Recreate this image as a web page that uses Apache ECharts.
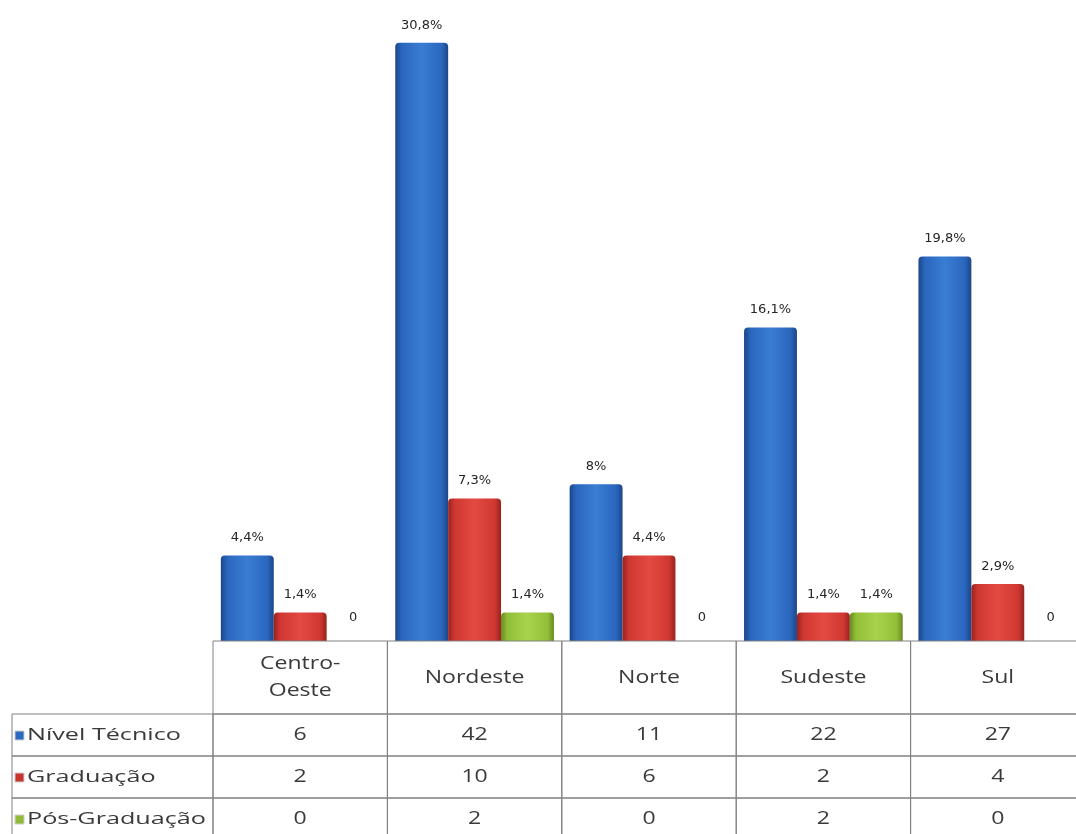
<!DOCTYPE html>
<html>
<head>
<meta charset="utf-8">
<script src="https://cdn.jsdelivr.net/npm/echarts@6/dist/echarts.min.js"></script>
<style>html,body{margin:0;padding:0;background:#fff;overflow:hidden;width:1076px;height:834px;}#c{width:1090px;height:834px;}</style>
</head>
<body>
<div id="c"></div>
<script>
const categories = ['Centro-\nOeste', 'Nordeste', 'Norte', 'Sudeste', 'Sul'];
const seriesNames = ['Nível Técnico', 'Graduação', 'Pós-Graduação'];
const valuesTecnico = [6, 42, 11, 22, 27];
const valuesGraduacao = [2, 10, 6, 2, 4];
const valuesPos = [0, 2, 0, 2, 0];
const labelsTecnico = ['4,4%', '30,8%', '8%', '16,1%', '19,8%'];
const labelsGraduacao = ['1,4%', '7,3%', '4,4%', '1,4%', '2,9%'];
const labelsPos = ['0', '1,4%', '0', '1,4%', '0'];

const allValues = [valuesTecnico, valuesGraduacao, valuesPos];
const allLabels = [labelsTecnico, labelsGraduacao, labelsPos];
const palette = [
  ['#1b4688', '#2a66bd', '#3b7dd4'],
  ['#97231f', '#cf3731', '#e24a42'],
  ['#678c1f', '#92bf38', '#a9d24c']
];
const markerColors = ['#2c69c0', '#c9342f', '#8fbb36'];

function grad(p) {
  return new echarts.graphic.LinearGradient(0, 0, 1, 0, [
    { offset: 0, color: p[0] }, { offset: 0.12, color: p[1] },
    { offset: 0.5, color: p[2] }, { offset: 0.88, color: p[1] }, { offset: 1, color: p[0] }
  ]);
}

const barSeries = allValues.map((vals, s) => ({
  type: 'bar',
  name: seriesNames[s],
  barGap: '0%',
  barCategoryGap: '9%',
  itemStyle: { color: grad(palette[s]), borderRadius: [4, 4, 0, 0] },
  data: vals.map(v => ({ value: v, label: { offset: v === 0 ? [0, -14] : [0, -8] } })),
  label: {
    show: true,
    position: 'top',
    distance: 3,
    fontFamily: 'DejaVu Sans',
    fontSize: 13,
    color: '#262626',
    formatter: p => allLabels[s][p.dataIndex]
  }
}));

// table cells: [categoryIndex, 0, row(-1 header), isLeftColumn]
const tableData = [];
for (let c = 0; c < categories.length; c++) {
  for (let r = -1; r < 3; r++) tableData.push([c, 0, r, 0]);
}
for (let r = 0; r < 3; r++) tableData.push([0, 0, r, 1]);

const HEADER_H = 73, ROW_H = 42, LEFT_W = 201;
const TXT = '#3a3a3a';
const FONT = 'Open Sans';

function renderCell(params, api) {
  const cat = api.value(0), row = api.value(2), left = api.value(3);
  const pt = api.coord([cat, 0]);
  const w = api.size([1, 0])[0];
  const baseY = pt[1];
  const y0 = row < 0 ? baseY : baseY + HEADER_H + row * ROW_H;
  const h = row < 0 ? HEADER_H : ROW_H;
  const children = [];
  if (left) {
    const x0 = pt[0] - w / 2 - LEFT_W;
    children.push({ type: 'rect', shape: { x: x0, y: y0, width: LEFT_W, height: h },
      style: { fill: 'none', stroke: '#808080', lineWidth: 1 } });
    children.push({ type: 'rect', shape: { x: x0 + 3, y: y0 + h / 2 - 4, width: 9, height: 9 },
      style: { fill: markerColors[row], stroke: '#cfcfcf', lineWidth: 1 } });
    children.push({ type: 'text', x: x0 + 15, y: y0 + h / 2, scaleX: 1.48,
      style: { text: seriesNames[row], textAlign: 'left', textVerticalAlign: 'middle',
        fontFamily: FONT, fontSize: 17, fill: TXT } });
  } else {
    const x0 = pt[0] - w / 2;
    children.push({ type: 'rect', shape: { x: x0, y: y0, width: w, height: h },
      style: { fill: 'none', stroke: '#808080', lineWidth: 1 } });
    const txt = row < 0 ? categories[cat] : String(allValues[row][cat]);
    children.push({ type: 'text', x: pt[0], y: y0 + h / 2, scaleX: 1.28,
      style: { text: txt, textAlign: 'center', textVerticalAlign: 'middle',
        fontFamily: FONT, fontSize: 18, lineHeight: 27, fill: TXT } });
  }
  return { type: 'group', children };
}

const chart = echarts.init(document.getElementById('c'), null, { renderer: 'canvas' });
chart.setOption({
  animation: false,
  backgroundColor: '#ffffff',
  grid: { left: 213, top: 0, width: 872, height: 641 },
  xAxis: { type: 'category', data: categories, show: false },
  yAxis: { type: 'value', min: 0, max: 45, show: false },
  series: barSeries.concat([{
    type: 'custom',
    name: 'table',
    clip: false,
    silent: true,
    z: 5,
    encode: { x: 0, y: 1 },
    renderItem: renderCell,
    data: tableData
  }])
});
</script>
</body>
</html>
